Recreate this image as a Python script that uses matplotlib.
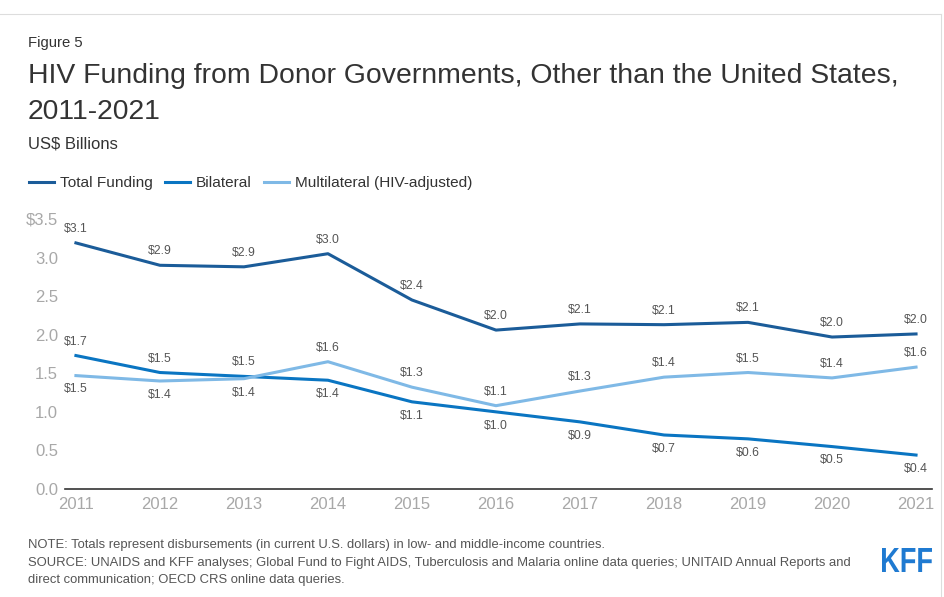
import matplotlib.pyplot as plt
from matplotlib.lines import Line2D
from matplotlib.textpath import TextPath
from matplotlib.patches import PathPatch
from matplotlib.font_manager import FontProperties
from matplotlib.transforms import Affine2D

plt.rcParams['font.family'] = ['Liberation Sans', 'DejaVu Sans']

years = [2011, 2012, 2013, 2014, 2015, 2016, 2017, 2018, 2019, 2020, 2021]
total = [3.19, 2.90, 2.88, 3.05, 2.45, 2.06, 2.14, 2.13, 2.16, 1.97, 2.01]
bilateral = [1.73, 1.51, 1.46, 1.41, 1.13, 1.00, 0.87, 0.70, 0.65, 0.55, 0.44]
multilateral = [1.47, 1.40, 1.43, 1.65, 1.32, 1.08, 1.27, 1.45, 1.51, 1.44, 1.58]

total_lbl = ['$3.1', '$2.9', '$2.9', '$3.0', '$2.4', '$2.0', '$2.1', '$2.1', '$2.1', '$2.0', '$2.0']
bilat_lbl = ['$1.7', '$1.5', '$1.5', '$1.4', '$1.1', '$1.0', '$0.9', '$0.7', '$0.6', '$0.5', '$0.4']
multi_lbl = ['$1.5', '$1.4', '$1.4', '$1.6', '$1.3', '$1.1', '$1.3', '$1.4', '$1.5', '$1.4', '$1.6']

c_total = '#1b5c99'
c_bilat = '#0a75c2'
c_multi = '#7fb9e6'

W, H = 944, 597
fig = plt.figure(figsize=(W / 100, H / 100), dpi=100)
ax = fig.add_axes([65 / W, 1 - 489 / H, (932 - 65) / W, (489 - 219) / H])

ax.plot(years, total, color=c_total, lw=2.2)
ax.plot(years, bilateral, color=c_bilat, lw=2.2)
ax.plot(years, multilateral, color=c_multi, lw=2.2)

def label(vals, lbls, above):
    for x, v, t, a in zip(years, vals, lbls, above):
        ax.annotate(t, (x, v), xytext=(0, 10 if a else -10), textcoords='offset points',
                    ha='center', va='center', fontsize=8.8, color='#555555', clip_on=False)

label(total, total_lbl, [True] * 11)
label(bilateral, bilat_lbl, [True] * 3 + [False] * 8)
label(multilateral, multi_lbl, [False] * 3 + [True] * 8)

ax.set_xlim(2010.87, 2021.19)
ax.set_ylim(0, 3.5)
ax.set_xticks(years)
ax.set_yticks([0, 0.5, 1.0, 1.5, 2.0, 2.5, 3.0, 3.5])
ax.set_yticklabels(['0.0', '0.5', '1.0', '1.5', '2.0', '2.5', '3.0', '$3.5'])
ax.tick_params(axis='both', length=0, labelsize=12, labelcolor='#a8a8a8')
ax.tick_params(axis='x', pad=6)
ax.tick_params(axis='y', pad=5)
for s in ['top', 'right', 'left']:
    ax.spines[s].set_visible(False)
ax.spines['bottom'].set_color('#333333')
ax.spines['bottom'].set_linewidth(1.2)

# titles
fig.text(28 / W, 1 - 47 / H, 'Figure 5', fontsize=10.7, color='#333333', va='baseline')
fig.text(28 / W, 1 - 83 / H, 'HIV Funding from Donor Governments, Other than the United States,',
         fontsize=20.4, color='#333333', va='baseline')
fig.text(28 / W, 1 - 119 / H, '2011-2021', fontsize=20.4, color='#333333', va='baseline')
fig.text(28 / W, 1 - 148 / H, 'US$ Billions', fontsize=12, color='#333333', va='baseline')

# legend
handles = [Line2D([], [], color=c, lw=2.2) for c in (c_total, c_bilat, c_multi)]
fig.legend(handles, ['Total Funding', 'Bilateral', 'Multilateral (HIV-adjusted)'],
           loc='center left', bbox_to_anchor=(15 / W, 1 - 183 / H), ncol=3, frameon=False,
           fontsize=11.1, handlelength=1.6, handletextpad=0.4, columnspacing=0.8,
           labelcolor='#333333')

# footer
foot = ['NOTE: Totals represent disbursements (in current U.S. dollars) in low- and middle-income countries.',
        'SOURCE: UNAIDS and KFF analyses; Global Fund to Fight AIDS, Tuberculosis and Malaria online data queries; UNITAID Annual Reports and',
        'direct communication; OECD CRS online data queries.']
for y, t in zip([548, 566, 583], foot):
    fig.text(28 / W, 1 - y / H, t, fontsize=9.4, color='#555555', va='baseline')

# KFF logo, squeezed to the box it takes in the reference
tp = TextPath((0, 0), 'KFF', size=40, prop=FontProperties(family='Liberation Sans', weight='bold'))
ext = tp.get_extents()
x0, x1, y0, y1 = 882, 932, H - 572, H - 548
tr = (Affine2D().translate(-ext.x0, -ext.y0)
      .scale((x1 - x0) / ext.width, (y1 - y0) / ext.height).translate(x0, y0))
fig.add_artist(PathPatch(tp, transform=tr, color='#1f7ad1', lw=0))

# thin frame lines at top and right
fig.add_artist(Line2D([0, 941 / W], [1 - 14 / H] * 2, color='#dddddd', lw=0.8))
fig.add_artist(Line2D([941 / W] * 2, [0, 1 - 14 / H], color='#dddddd', lw=0.8))

plt.savefig('out.png', dpi=100)
